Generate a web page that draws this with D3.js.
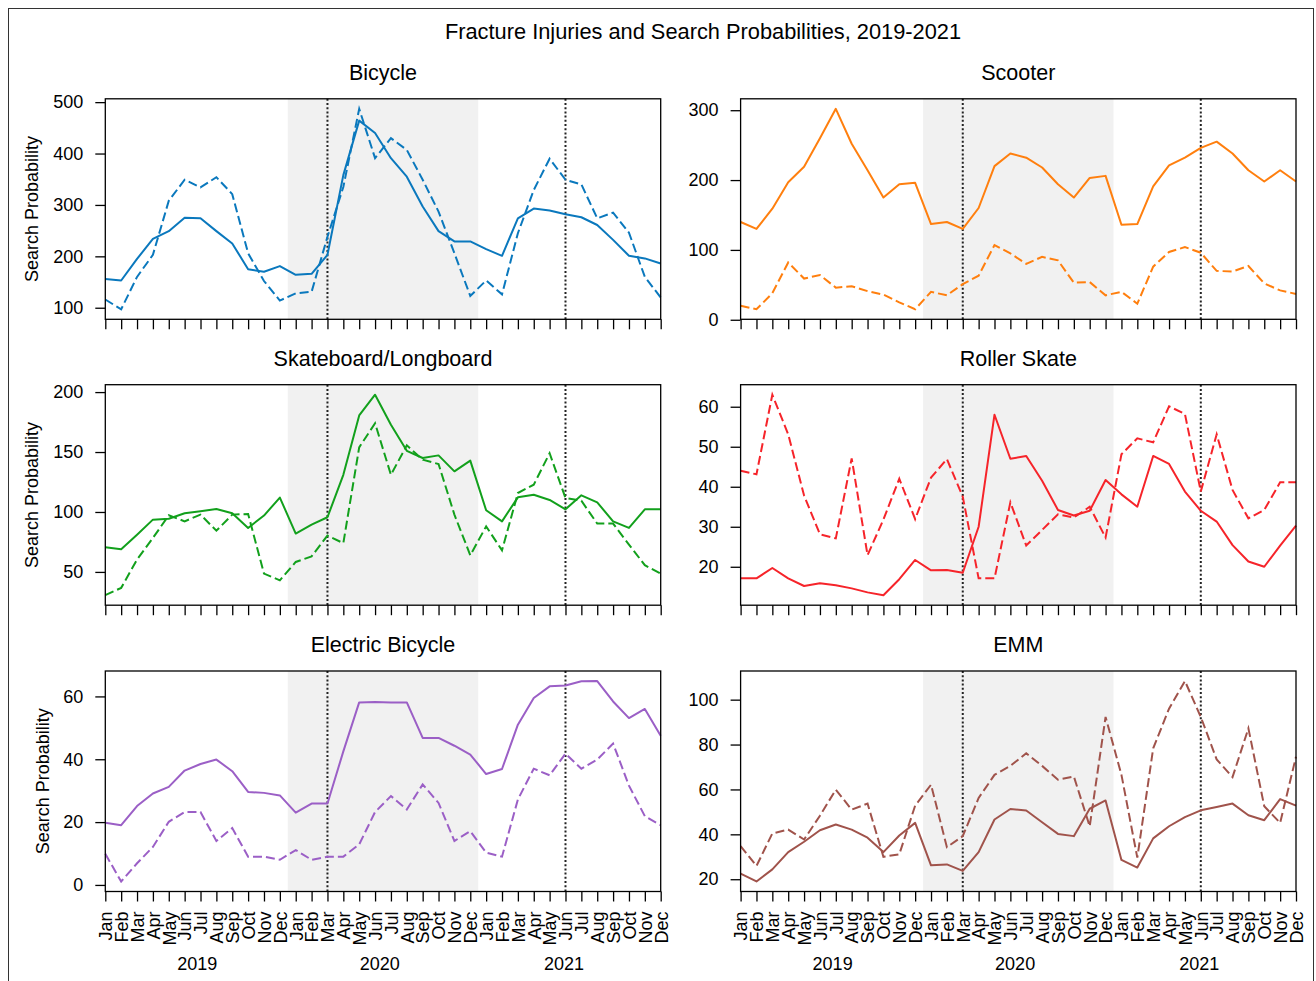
<!DOCTYPE html>
<html>
<head>
<meta charset="utf-8">
<script src="https://cdn.jsdelivr.net/npm/d3@7"></script>
<style>
  body { margin: 0; background: #fff; }
  svg text { font-family: "Liberation Sans", Arial, sans-serif; fill: #000; }
</style>
</head>
<body>
<svg id="chart" width="1316" height="981"></svg>
<script>
// months Jan 2019 .. Dec 2021
var months = ["Jan","Feb","Mar","Apr","May","Jun","Jul","Aug","Sep","Oct","Nov","Dec",
  "Jan","Feb","Mar","Apr","May","Jun","Jul","Aug","Sep","Oct","Nov","Dec",
  "Jan","Feb","Mar","Apr","May","Jun","Jul","Aug","Sep","Oct","Nov","Dec"];
var years = ["2019", "2020", "2021"];
var yearPos = [5.8, 17.3, 28.9];      // month index under which each year sits
var shadeRange = [11.5, 23.5];        // grey band, in month index
var markerLines = [14, 29];           // dotted lines (Mar 2020, Jun 2021)

// solid = fracture injuries, dashed = search probability
var bicycleSolid = [156,153,195,234,249,275,274,249,225,175,170,181,164,166,203,358,464,440,391,355,297,249,229,229,214,201,274,293,289,282,276,261,232,201,196,186];
var bicycleDashed = [116,97,160,203,308,349,334,354,321,206,152,114,128,131,238,335,487,391,430,407,349,287,206,123,153,126,245,329,390,349,340,274,285,246,160,120];

var scooterSolid = [140,130,159,197,219,260,302,252,214,175,194,196,137,140,130,160,220,238,232,218,194,175,203,206,136,137,191,221,232,246,255,238,214,198,214,198];
var scooterDashed = [20,15,38,82,59,64,46,48,41,36,25,15,40,35,51,63,107,95,80,90,85,53,54,35,40,23,76,97,104,96,70,69,77,52,42,37];

var skateSolid = [70.6,68.9,81,93.6,94.4,98.9,100.6,102.5,98.9,86.7,97,112,82,89.4,95.6,131,180.5,197.8,172.8,151,145,147.2,133.9,142.8,101.4,92.2,112.2,114.4,110,102.2,113.9,108,92.2,86.7,102.2,102.2];
var skateDashed = [30.6,36.7,60.3,78.3,97.2,92.2,97.8,84.4,97.8,98.3,48.6,43,58.3,63,80.3,74,153.9,174,131,155.6,143.6,140,97.8,63.9,88,68,115.8,122.8,149,111.7,109.4,90.3,90.3,72.8,55.6,48.6];

var rollerSolid = [17.1,17.1,19.7,17.1,15.2,15.9,15.4,14.6,13.6,12.9,16.9,21.7,19.1,19.2,18.5,30,58,47,47.7,41.5,34.2,32.8,34,41.7,38.1,35,47.7,45.7,38.8,34,31.3,25.4,21.3,20,25.3,30.3];
var rollerDashed = [44,43.1,63,53.1,37.8,28.1,27.1,47.1,22.9,31.8,42,31.9,42.3,46.9,37.5,17.1,17.1,36.1,25.3,29.2,33.1,32.3,35,27.3,48.1,52.1,51.1,60.1,58.2,38.8,53.1,39.2,32.1,34.2,41.1,41.1];

var ebikeSolid = [19.8,19,25.1,29.1,31.2,36.4,38.5,39.9,36.2,29.6,29.3,28.5,23,25.9,25.9,42.5,58.1,58.2,58.1,58.1,46.8,46.8,44.3,41.5,35.3,36.9,51,59.5,63.2,63.5,64.8,64.9,58.4,53.1,56,47.5];
var ebikeDashed = [9.9,1.1,6.9,12.1,20.1,23.2,23.2,14,18.1,9,9,8,11.1,8,9,9,12.9,23.2,28.3,24,32,26.1,14,17.1,10.3,9,27.2,37,34.9,41.8,37,39.9,45,31.6,21.9,19];

var emmSolid = [22.5,19,24.4,32.1,36.7,41.8,44.4,42.1,38.5,32.1,39.5,45.1,26.2,26.6,23.7,32.1,46.6,51.3,50.6,45.4,40.2,39.2,51.4,55.1,28.6,25.2,38.2,43.6,47.7,50.7,52.2,53.7,48.5,46.3,55.7,52.8];
var emmDashed = [34.8,25.9,40.4,42.1,37.7,48.3,59.9,51,53.7,30,31.1,52.8,62.1,34.3,39.2,56.2,66.5,70.5,76.1,70.5,64.3,65.8,43.6,92.3,66.5,29.6,78.3,96,108.3,92.3,73.4,65.5,87.2,52.5,45.1,74.6];

var bicycleTicks = [100,200,300,400,500];
var scooterTicks = [0,100,200,300];
var skateTicks = [50,100,150,200];
var rollerTicks = [20,30,40,50,60];
var ebikeTicks = [0,20,40,60];
var emmTicks = [20,40,60,80,100];

var svg = d3.select("#chart");

// outer frame
svg.append("rect")
  .attr("x", 8.5).attr("y", 8.5)
  .attr("width", 1305).attr("height", 1000)
  .attr("fill", "none")
  .attr("stroke", "#333")
  .attr("stroke-width", 1);

svg.append("text")
  .attr("x", 703).attr("y", 39)
  .attr("text-anchor", "middle")
  .style("font-size", "21.8px")
  .text("Fracture Injuries and Search Probabilities, 2019-2021");

function drawPanel(p) {
  var width = 555.4, height = 220.5;
  var g = svg.append("g")
    .attr("transform", "translate(" + p.left + "," + p.top + ")");

  var x = d3.scaleLinear().domain([0, months.length - 1]).range([0, width]);

  var all = p.solid.concat(p.dashed);
  var lo = d3.min(all), hi = d3.max(all), pad = (hi - lo) * 0.05;
  var y = d3.scaleLinear().domain([lo - pad, hi + pad]).range([height, 0]);

  g.append("rect")
    .attr("x", x(shadeRange[0])).attr("y", 0)
    .attr("width", x(shadeRange[1]) - x(shadeRange[0]))
    .attr("height", height)
    .attr("fill", "#f1f1f1");

  markerLines.forEach(function(m) {
    g.append("line")
      .attr("x1", x(m)).attr("x2", x(m))
      .attr("y1", 0).attr("y2", height)
      .attr("stroke", "#222")
      .attr("stroke-width", 2)
      .attr("stroke-dasharray", "2,2.2");
  });

  var line = d3.line()
    .x(function(d, i) { return x(i) })
    .y(function(d) { return y(d) });

  g.append("path")
    .datum(p.solid)
    .attr("fill", "none")
    .attr("stroke", p.color)
    .attr("stroke-width", 2)
    .attr("stroke-linejoin", "round")
    .attr("d", line);

  g.append("path")
    .datum(p.dashed)
    .attr("fill", "none")
    .attr("stroke", p.color)
    .attr("stroke-width", 2)
    .attr("stroke-dasharray", "9,4")
    .attr("d", line);

  // x axis
  var xa = g.append("g")
    .attr("transform", "translate(0," + height + ")")
    .call(d3.axisBottom(x)
      .tickValues(d3.range(months.length))
      .tickSize(10)
      .tickFormat(function(i) { return p.labels ? months[i] : "" }));
  xa.select(".domain").remove();
  xa.selectAll(".tick line").attr("stroke", "#000").attr("stroke-width", 1.3);
  xa.selectAll("text")
    .attr("transform", "rotate(-90)")
    .attr("x", -20).attr("y", 0)
    .attr("dy", "0.35em")
    .attr("text-anchor", "end")
    .style("font-size", "18px")
    .attr("font-family", null);

  if (p.labels) {
    years.forEach(function(yr, k) {
      g.append("text")
        .attr("x", x(yearPos[k])).attr("y", height + 78)
        .attr("text-anchor", "middle")
        .style("font-size", "18px")
        .text(yr);
    });
  }

  // y axis
  var ya = g.append("g")
    .call(d3.axisLeft(y).tickValues(p.ticks).tickSize(10).tickPadding(12));
  ya.select(".domain").remove();
  ya.selectAll(".tick line").attr("stroke", "#000").attr("stroke-width", 1.3);
  ya.selectAll("text")
    .style("font-size", "18px")
    .attr("font-family", null);

  if (p.ylabel) {
    g.append("text")
      .attr("transform", "translate(" + (p.ylabelX - p.left) + "," + (height / 2) + ") rotate(-90)")
      .attr("text-anchor", "middle")
      .attr("dy", "0.35em")
      .style("font-size", "18px")
      .text("Search Probability");
  }

  g.append("rect")
    .attr("width", width).attr("height", height)
    .attr("fill", "none")
    .attr("stroke", "#000")
    .attr("stroke-width", 1.3);

  g.append("text")
    .attr("x", width / 2).attr("y", -19)
    .attr("text-anchor", "middle")
    .style("font-size", "21.5px")
    .text(p.title);
}

var leftX = 105.3, rightX = 740.6;
var rowY = [98.8, 384.7, 671];

drawPanel({ title: "Bicycle", left: leftX, top: rowY[0], solid: bicycleSolid, dashed: bicycleDashed, color: "#0a78bd", ticks: bicycleTicks, ylabel: true, ylabelX: 32 });
drawPanel({ title: "Scooter", left: rightX, top: rowY[0], solid: scooterSolid, dashed: scooterDashed, color: "#ff7f0e", ticks: scooterTicks });
drawPanel({ title: "Skateboard/Longboard", left: leftX, top: rowY[1], solid: skateSolid, dashed: skateDashed, color: "#12a01c", ticks: skateTicks, ylabel: true, ylabelX: 32 });
drawPanel({ title: "Roller Skate", left: rightX, top: rowY[1], solid: rollerSolid, dashed: rollerDashed, color: "#f6242a", ticks: rollerTicks });
drawPanel({ title: "Electric Bicycle", left: leftX, top: rowY[2], solid: ebikeSolid, dashed: ebikeDashed, color: "#9b5fc6", ticks: ebikeTicks, ylabel: true, ylabelX: 43, labels: true });
drawPanel({ title: "EMM", left: rightX, top: rowY[2], solid: emmSolid, dashed: emmDashed, color: "#a0534b", ticks: emmTicks, labels: true });
</script>
</body>
</html>
